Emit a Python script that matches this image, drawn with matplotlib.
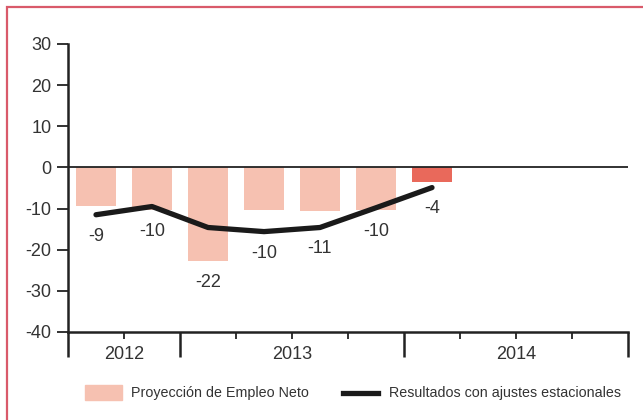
import matplotlib.pyplot as plt
from matplotlib.patches import Rectangle
from matplotlib.lines import Line2D

# trimestres desde Q3 2012
quarters = [0.5, 1.5, 2.5, 3.5, 4.5, 5.5, 6.5]
proyeccion = [-9.3, -10.3, -22.7, -10.3, -10.7, -10.3, -3.6]
ajustes = [-11.5, -9.5, -14.6, -15.6, -14.6, -9.8, -4.9]
etiquetas = ['-9', '-10', '-22', '-10', '-11', '-10', '-4']
years = ['2012', '2013', '2014']
year_pos = [1, 4, 8]

txt = '#333333'
plt.rcParams['font.family'] = ['Liberation Sans', 'DejaVu Sans']
plt.rcParams['axes.unicode_minus'] = False

fig = plt.figure(figsize=(6.43, 4.2), dpi=100)
ax = fig.add_axes([68 / 643, 1 - 332 / 420, 560 / 643, 288 / 420])

colors = ['#f6c1b1'] * 6 + ['#e9695b']
ax.bar(quarters, proyeccion, width=0.7, color=colors, zorder=2)
ax.axhline(0, color='#222222', lw=1.3, zorder=3)
ax.plot(quarters, ajustes, color='#1a1a1a', lw=3.8, solid_capstyle='round',
        solid_joinstyle='round', zorder=4)

for x, b, l, t in zip(quarters, proyeccion, ajustes, etiquetas):
    ax.text(x, min(b, l) - 5.2, t, ha='center', va='center', fontsize=13, color=txt)

ax.set_xlim(0, 10)
ax.set_ylim(-40, 30)
ax.set_yticks([-40, -30, -20, -10, 0, 10, 20, 30])
ax.tick_params(axis='y', length=8, width=1.3, color='#222222', labelsize=13,
               labelcolor=txt, pad=4)
ax.set_xticks([0, 2, 6, 10])
ax.set_xticks([1, 3, 4, 5, 7, 8, 9], minor=True)
ax.tick_params(axis='x', which='major', length=18, width=1.8, color='#222222',
               labelbottom=False)
ax.tick_params(axis='x', which='minor', length=5, width=1.3, color='#222222')
for yp, yr in zip(year_pos, years):
    ax.text(yp, -45.5, yr, ha='center', va='center', fontsize=13, color=txt)

for s in ['top', 'right']:
    ax.spines[s].set_visible(False)
for s in ['left', 'bottom']:
    ax.spines[s].set_linewidth(1.8)
    ax.spines[s].set_color('#222222')

# leyenda
fig.patches.append(Rectangle((85 / 643, 1 - 400 / 420), 37 / 643, 15 / 420,
                             transform=fig.transFigure, color='#f6c1b1'))
fig.text(131 / 643, 1 - 393 / 420, 'Proyección de Empleo Neto', fontsize=10.3,
         color=txt, va='center')
fig.lines.append(Line2D([343 / 643, 378 / 643], [1 - 393 / 420, 1 - 393 / 420],
                        transform=fig.transFigure, color='#1a1a1a', lw=3.8))
fig.text(389 / 643, 1 - 393 / 420, 'Resultados con ajustes estacionales',
         fontsize=10.3, color=txt, va='center')

# marco
fig.patches.append(Rectangle((7 / 643, -0.1), 1.1, 1 - 7 / 420 + 0.1,
                             transform=fig.transFigure, fill=False,
                             edgecolor='#d95a6a', lw=1.6))

fig.savefig('out.png', dpi=100)
